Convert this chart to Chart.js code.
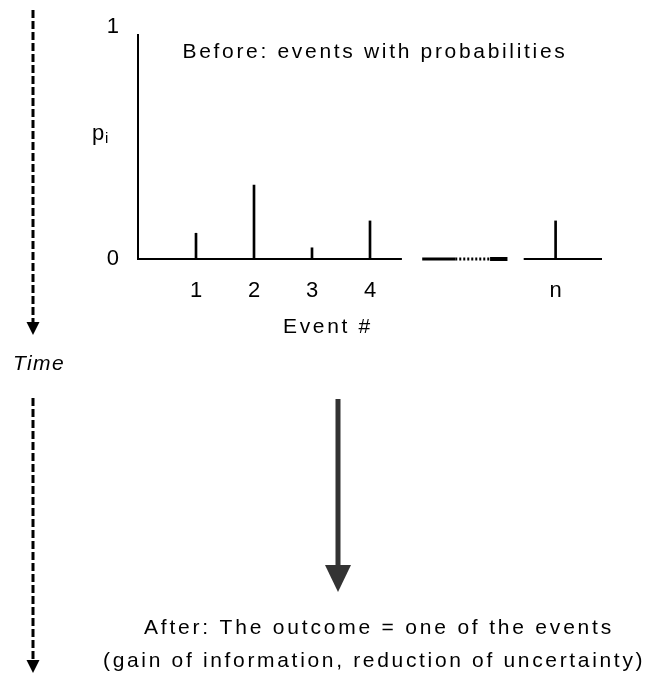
<!DOCTYPE html>
<html>
<head>
<meta charset="utf-8">
<script src="https://cdn.jsdelivr.net/npm/chart.js@4"></script>
<style>
html, body { margin: 0; padding: 0; background: #fff; }
canvas { display: block; }
</style>
</head>
<body>
<canvas id="infoChart" width="648" height="677"></canvas>
<script>
// event positions on the x axis ("n" sits after the gap) and their probabilities
const eventPositions = [1, 2, 3, 4, 7.2];
const eventLabels = ['1', '2', '3', '4', 'n'];
const probabilities = [0.115, 0.33, 0.05, 0.17, 0.17];
const yTicks = [0, 1];
// baseline pieces: first run, the "..." break, and the short piece under n
const baseFirst = [0, 4.55];
const breakSolidA = [4.9, 5.47];
const breakDots = [5.47, 6.07];
const breakSolidB = [6.07, 6.37];
const baseLast = [6.65, 8];

const FONT = "'Liberation Sans', Arial, sans-serif";

function seg(range) {
  return [{ x: range[0], y: 0 }, { x: range[1], y: 0 }];
}

function lineSet(range, width, dash) {
  return {
    type: 'line',
    data: seg(range),
    borderColor: '#000',
    borderWidth: width,
    borderDash: dash || [],
    pointRadius: 0,
    clip: false
  };
}

// draw text stretched to a given width (the original uses a wide-spaced bitmap font)
function fitText(ctx, text, cx, cy, width, font) {
  ctx.save();
  ctx.font = font;
  ctx.letterSpacing = '0px';
  const w = ctx.measureText(text).width;
  const sp = (width - w) / text.length;
  ctx.letterSpacing = sp.toFixed(2) + 'px';
  ctx.textAlign = 'left';
  ctx.textBaseline = 'middle';
  ctx.fillStyle = '#000';
  ctx.fillText(text, cx - width / 2, cy);
  ctx.restore();
}

function arrowDown(ctx, x, y0, y1, headLen, headW, lw, color, dash) {
  ctx.save();
  ctx.strokeStyle = color;
  ctx.fillStyle = color;
  ctx.lineWidth = lw;
  ctx.setLineDash(dash || []);
  ctx.beginPath();
  ctx.moveTo(x, y0);
  ctx.lineTo(x, y1 - headLen);
  ctx.stroke();
  ctx.beginPath();
  ctx.moveTo(x - headW / 2, y1 - headLen);
  ctx.lineTo(x + headW / 2, y1 - headLen);
  ctx.lineTo(x, y1);
  ctx.closePath();
  ctx.fill();
  ctx.restore();
}

const annotations = {
  id: 'annotations',
  afterDraw(chart) {
    const ctx = chart.ctx;
    const area = chart.chartArea;
    const xs = chart.scales.x;

    fitText(ctx, 'Before: events with probabilities', 375, 52, 385, '21px ' + FONT);

    // p_i label
    ctx.save();
    ctx.fillStyle = '#000';
    ctx.textBaseline = 'alphabetic';
    ctx.font = '22px ' + FONT;
    ctx.fillText('p', 92, 140);
    ctx.font = '15px ' + FONT;
    ctx.fillText('i', 105, 143);
    ctx.restore();

    fitText(ctx, 'Event #', xs.getPixelForValue(3.275), area.bottom + 68, 90, '21px ' + FONT);
    fitText(ctx, 'Time', 39, 364, 52, 'italic 21px ' + FONT);

    // time arrows on the left
    arrowDown(ctx, 33, 10, 335, 13, 13, 3, '#000', [8, 3]);
    arrowDown(ctx, 33, 398, 673, 13, 13, 3, '#000', [8, 3]);

    // big arrow in the middle
    arrowDown(ctx, 338, 399, 592, 27, 26, 5, '#333');

    fitText(ctx, 'After: The outcome = one of the events', 379, 628, 470, '21px ' + FONT);
    fitText(ctx, '(gain of information, reduction of uncertainty)', 374, 661, 542, '21px ' + FONT);
  }
};

new Chart(document.getElementById('infoChart'), {
  type: 'bar',
  data: {
    datasets: [
      {
        type: 'bar',
        data: eventPositions.map((x, i) => ({ x: x, y: probabilities[i] })),
        backgroundColor: '#000',
        barThickness: 2,
        clip: false
      },
      lineSet(baseFirst, 2),
      lineSet(breakSolidA, 3),
      lineSet(breakDots, 3, [2, 2]),
      lineSet(breakSolidB, 4),
      lineSet(baseLast, 2)
    ]
  },
  options: {
    responsive: false,
    animation: false,
    layout: { padding: { left: 98, top: 33, right: 46, bottom: 368 } },
    plugins: {
      legend: { display: false },
      tooltip: { enabled: false },
      title: { display: false }
    },
    scales: {
      x: {
        type: 'linear',
        min: 0,
        max: 8,
        offset: false,
        grid: { display: false, drawTicks: false, offset: false },
        border: { display: false },
        afterBuildTicks: s => { s.ticks = eventPositions.map(v => ({ value: v })); },
        afterFit: s => { s.height = 50; },
        ticks: {
          autoSkip: false,
          maxRotation: 0,
          padding: 19,
          color: '#000',
          font: { family: FONT, size: 22 },
          callback: v => eventLabels[eventPositions.indexOf(v)]
        }
      },
      y: {
        type: 'linear',
        min: 0,
        max: 1,
        grid: { display: false, drawTicks: false },
        border: { display: true, color: '#000', width: 2 },
        afterBuildTicks: s => { s.ticks = yTicks.map(v => ({ value: v })); },
        afterFit: s => { s.width = 40; },
        ticks: {
          padding: 19,
          color: '#000',
          font: { family: FONT, size: 22, lineHeight: '16px' },
          // the "1" sits a little above the top of the axis in the original
          callback: v => (v === 1 ? ['1', ''] : String(v))
        }
      }
    }
  },
  plugins: [annotations]
});
</script>
</body>
</html>
